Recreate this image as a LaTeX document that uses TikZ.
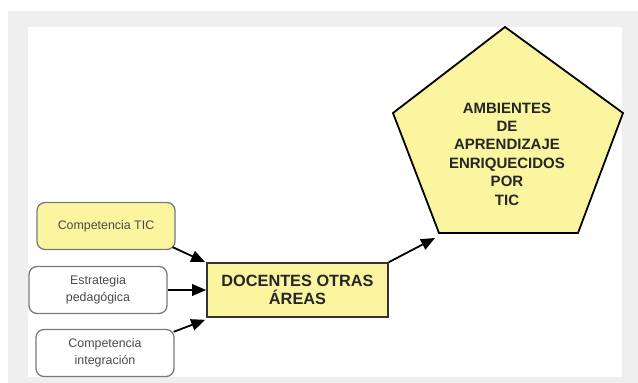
\documentclass[tikz,border=0pt]{standalone}
\usepackage{fontspec}
\setmainfont{Liberation Sans}
\usetikzlibrary{arrows.meta}
\definecolor{frame}{HTML}{EFEFEF}
\definecolor{paleyellow}{HTML}{FAF59E}
\definecolor{boxline}{HTML}{7A7A7A}
\definecolor{smalltext}{HTML}{4A4A4A}
\tikzset{
  inbox/.style={draw=boxline, line width=1.3pt, rounded corners=8pt,
    minimum width=138pt, minimum height=47pt, inner sep=0pt, align=center,
    text=smalltext, font=\fontsize{12.4}{16.5}\selectfont},
  mainbox/.style={draw=black!80, line width=1.6pt, fill=paleyellow,
    minimum width=181pt, minimum height=54pt, inner sep=0pt, align=center,
    text=black!85, font=\fontsize{16.3}{18}\selectfont\bfseries},
  flow/.style={line width=1.8pt, -{Triangle[length=14pt,width=11.5pt]}},
}
\begin{document}
\begin{tikzpicture}[x=1pt, y=-1pt]
  % page and white panel
  \useasboundingbox (0,0) rectangle (638,383);
  \fill[white] (0,0) rectangle (638,383);
  \fill[frame] (8,11) rectangle (638,383);
  \fill[white] (28,27) rectangle (622,377);

  % input boxes
  \node[inbox, fill=paleyellow] (tic) at (106,226) {Competencia TIC};
  \node[inbox, fill=white] (est) at (98,290) {Estrategia\\pedagógica};
  \node[inbox, fill=white] (integ) at (105,353) {Competencia\\integración};

  % central box
  \node[mainbox] (doc) at (297.5,290) {DOCENTES OTRAS\\ÁREAS};

  % pentagon
  \coordinate (ptop) at (505,27);
  \coordinate (pright) at (623,113);
  \coordinate (pbr) at (578,233);
  \coordinate (pbl) at (439,233);
  \coordinate (pleft) at (393,113);
  \draw[line width=1.8pt, line join=miter, fill=paleyellow]
    (ptop) -- (pright) -- (pbr) -- (pbl) -- (pleft) -- cycle;
  \node[align=center, text=black!85, inner sep=0pt,
        font=\fontsize{15}{18.4}\selectfont\bfseries] (amb) at (507,154)
    {AMBIENTES\\DE\\APRENDIZAJE\\ENRIQUECIDOS\\POR\\TIC};
  \coordinate (ptip) at (435,238);

  % connectors
  \draw[flow] ([shift={(-3,-3)}]tic.south east) -- ([shift={(-1,0)}]doc.north west);
  \draw[flow] (est.east) -- (doc.west);
  \draw[flow] ([shift={(-1,3)}]integ.north east) -- ([shift={(-1,2)}]doc.south west);
  \draw[flow] (doc.north east) -- (ptip);
\end{tikzpicture}
\end{document}
